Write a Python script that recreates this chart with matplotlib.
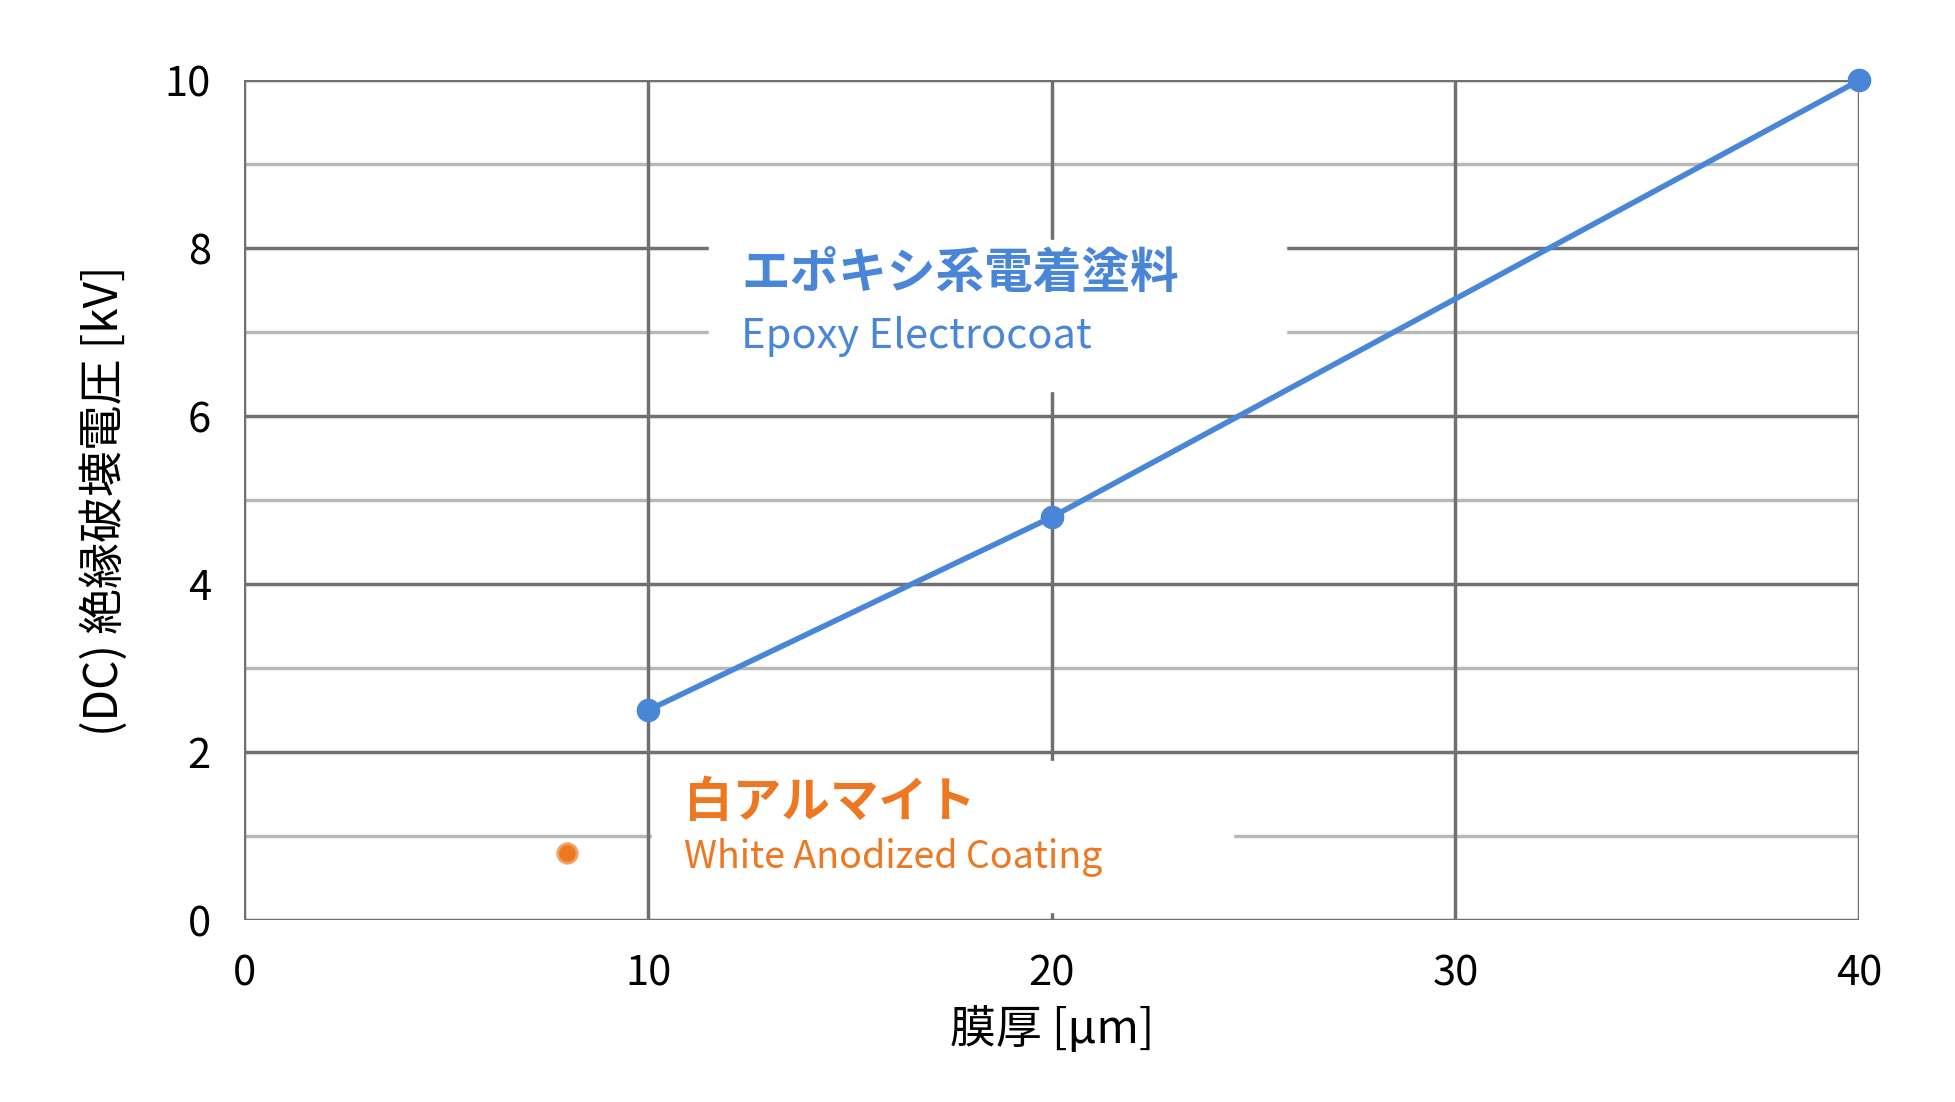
import matplotlib
matplotlib.use("Agg")
import matplotlib.pyplot as plt

plt.rcParams['font.family'] = ['Noto Sans CJK JP', 'DejaVu Sans']

epoxy_x = [10, 20, 40]
epoxy_y = [2.5, 4.8, 10.0]
white_x = [8]
white_y = [0.8]
xticks = [0, 10, 20, 30, 40]
yticks = [0, 2, 4, 6, 8, 10]

blue = '#4a86d8'
orange = '#ee7722'

fig = plt.figure(figsize=(19.55, 11.02), dpi=100)
ax = fig.add_axes([0.125, 0.165, 0.826, 0.762])
ax.set_xlim(0, 40)
ax.set_ylim(0, 10)
for y in range(1, 10, 2):
    ax.axhline(y, color='#b8b8b8', lw=2.5, zorder=0)
for y in yticks:
    ax.axhline(y, color='#707070', lw=2.5, zorder=0)
for x in xticks:
    ax.axvline(x, color='#707070', lw=2.5, zorder=0)
for s in ax.spines.values():
    s.set_visible(False)
ax.set_xticks(xticks)
ax.set_yticks(yticks)
ax.tick_params(length=0, labelsize=30, pad=24)
ax.set_xlabel('膜厚 [μm]', fontsize=33, labelpad=8)
ax.set_ylabel('(DC) 絶縁破壊電圧 [kV]', fontsize=33, labelpad=26)

ax.plot(epoxy_x, epoxy_y, color=blue, lw=4, marker='o', ms=16, zorder=3, clip_on=False)
ax.plot(white_x, white_y, color=orange, marker='o', ms=14, ls='none',
        markeredgecolor='#f5a060', markeredgewidth=2, zorder=3, clip_on=False)

ax.fill_between([11.5, 25.8], 6.3, 8.1, color='white', zorder=1)
ax.text(12.3, 7.7, 'エポキシ系電着塗料', color=blue, fontsize=35, fontweight='bold', va='center', zorder=4)
ax.text(12.3, 6.95, 'Epoxy Electrocoat', color=blue, fontsize=30, va='center', zorder=4)

ax.fill_between([10.1, 24.5], 0.1, 1.9, color='white', zorder=1)
ax.text(10.9, 1.4, '白アルマイト', color=orange, fontsize=35, fontweight='bold', va='center', zorder=4)
ax.text(10.9, 0.75, 'White Anodized Coating', color=orange, fontsize=27, va='center', zorder=4)

fig.savefig('out.png', dpi=100, facecolor='white')
